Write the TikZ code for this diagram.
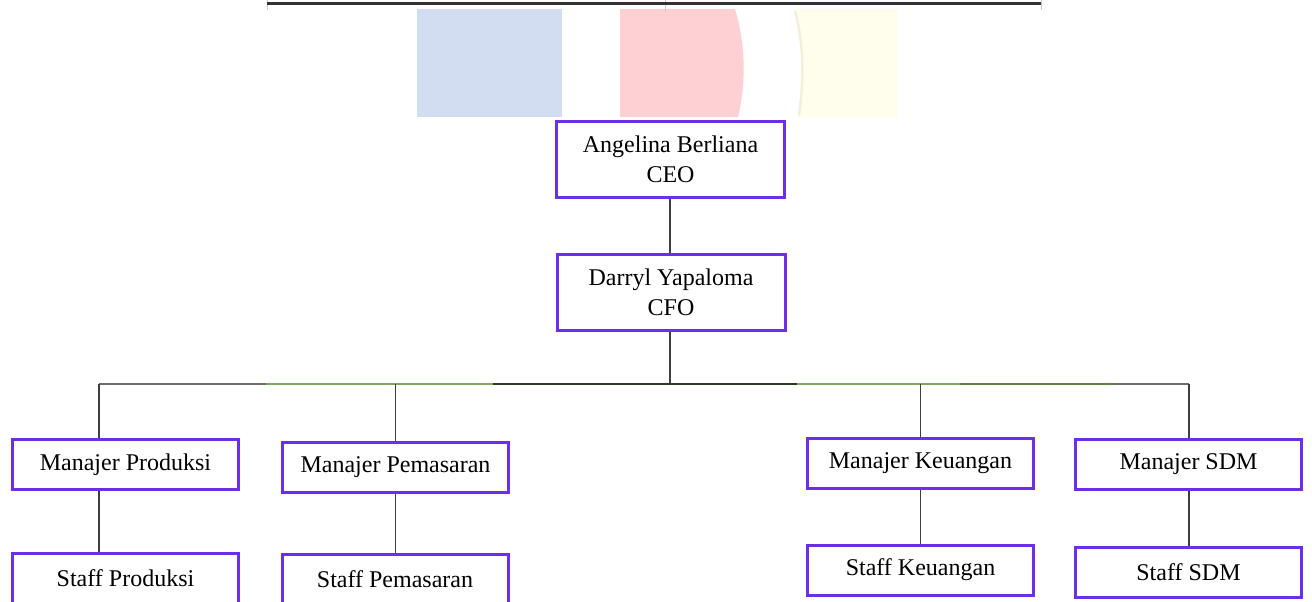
\documentclass[tikz,border=0pt]{standalone}
\usepackage{fontspec}
\setmainfont{Liberation Serif}
\definecolor{boxpurple}{HTML}{6D2EEA}
\definecolor{wmblue}{HTML}{D3DDF1}
\definecolor{wmpink}{HTML}{FFD0D3}
\definecolor{wmyellow}{HTML}{FFFDEC}
\definecolor{wmedge}{HTML}{F4EEDC}
\definecolor{lgreen}{HTML}{7FA85E}
\definecolor{dgreen}{HTML}{2F3B29}
\definecolor{ogreen}{HTML}{5F823C}
\definecolor{busgray}{HTML}{6E6E6E}
\definecolor{conn}{HTML}{3E3E3E}
\begin{document}
\begin{tikzpicture}[x=0.5pt,y=-0.5pt,
  orgbox/.style={draw=boxpurple,line width=1.5pt,fill=white,align=center,
    inner sep=0pt,font=\fontsize{12}{15}\selectfont},
  bigbox/.style={orgbox,minimum width=114pt,minimum height=38pt},
  smallbox/.style={orgbox,minimum width=113pt,minimum height=25pt},
  link/.style={draw=conn,line width=0.9pt},
  busline/.style={line width=1.4pt}]
\useasboundingbox (0,0) rectangle (1312,601);
% watermark fragments
\fill[wmblue] (417,9) rectangle (562,117);
\fill[wmpink] (620,9) -- (735,9) .. controls (746,45) and (746,85) .. (738,117) -- (620,117) -- cycle;
\fill[wmyellow] (793,9) -- (898,9) -- (898,117) -- (797,117) .. controls (804,80) and (804,45) .. (793,9);
\draw[wmedge,line width=1.2pt] (795,11) .. controls (804,45) and (804,80) .. (799,115);
% top table border fragment
\draw[gray!40,line width=0.5pt] (267,0) -- (267,10) (665,0) -- (665,12) (1041,0) -- (1041,10);
\draw[black!80,line width=1.5pt] (267,3) -- (1041,3);
% nodes
\node[bigbox] (ceo) at (670.5,159.5) {Angelina Berliana\\CEO};
\node[bigbox] (cfo) at (671,292.5) {Darryl Yapaloma\\CFO};
\node[smallbox] (mprod) at (125.5,464.5) {Manajer Produksi};
\node[smallbox] (mpem) at (395.5,467.5) {Manajer Pemasaran};
\node[smallbox] (mkeu) at (920.5,463.5) {Manajer Keuangan};
\node[smallbox] (msdm) at (1188.5,464.5) {Manajer SDM};
\node[smallbox] (sprod) at (125.5,578) {Staff Produksi};
\node[smallbox] (spem) at (395,579) {Staff Pemasaran};
\node[smallbox] (skeu) at (920.5,570) {Staff Keuangan};
\node[smallbox] (ssdm) at (1188.5,572.5) {Staff SDM};
% bus coordinates
\coordinate (busL) at (99,384);
\coordinate (busR) at (1189,384);
\coordinate (busJ) at (670,384);
% connectors
\draw[link] (ceo.south -| busJ) -- (cfo.north -| busJ);
\draw[link] (cfo.south -| busJ) -- (busJ);
\draw[busline,busgray] (busL) -- (busR);
\draw[busline,lgreen] (266,384) -- (493,384);
\draw[busline,dgreen] (493,384) -- (797,384);
\draw[busline,lgreen] (797,384) -- (960,384);
\draw[busline,ogreen] (960,384) -- (1113,384);
\draw[link] (busL) -- (mprod.north -| busL);
\draw[link] (mpem.north |- busL) -- (mpem.north);
\draw[link] (mkeu.north |- busL) -- (mkeu.north);
\draw[link] (busR) -- (msdm.north -| busR);
\draw[link] (mprod.south -| busL) -- (sprod.north -| busL);
\draw[link] (mpem.south) -- (mpem.south |- spem.north);
\draw[link] (mkeu.south) -- (mkeu.south |- skeu.north);
\draw[link] (msdm.south -| busR) -- (ssdm.north -| busR);
\end{tikzpicture}
\end{document}
